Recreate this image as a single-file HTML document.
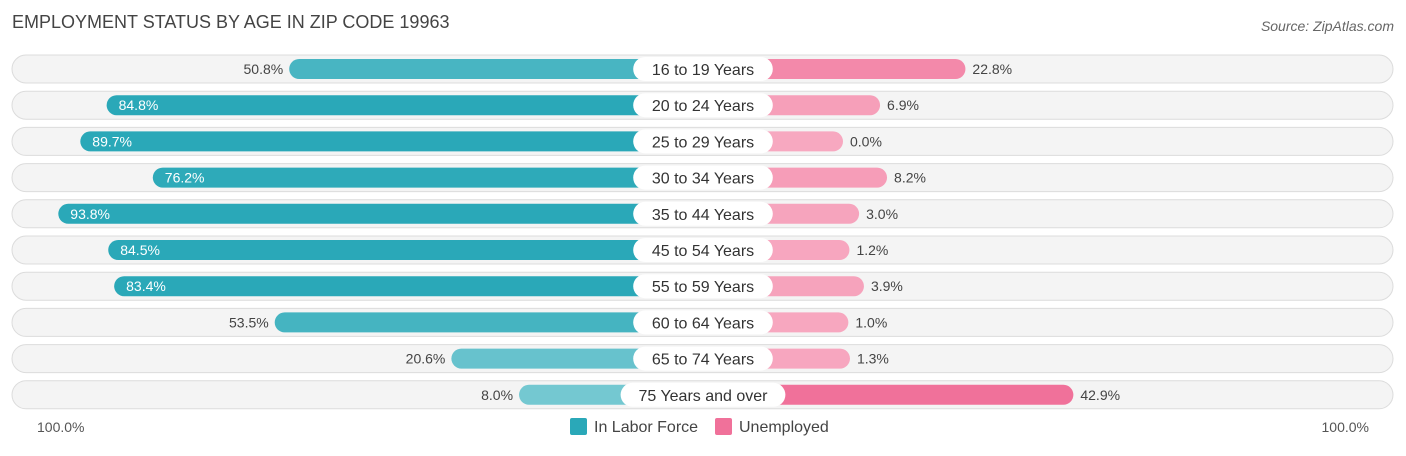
<!DOCTYPE html>
<html><head><meta charset="utf-8"><style>
body{margin:0;background:#fff;width:1406px;height:451px;overflow:hidden;font-family:"Liberation Sans",sans-serif;}
svg text{font-family:"Liberation Sans",sans-serif;}
</style></head><body>
<svg id="chart" width="1406" height="451">
<text x="12" y="28" font-size="18" fill="#444">EMPLOYMENT STATUS BY AGE IN ZIP CODE 19963</text>
<text x="1394" y="31" font-size="14" fill="#666" font-style="italic" text-anchor="end">Source: ZipAtlas.com</text>
<g id="rows"></g>
<text x="37" y="432" font-size="14" fill="#555">100.0%</text>
<text x="1369" y="432" font-size="14" fill="#555" text-anchor="end">100.0%</text>
<g>
<rect x="570" y="418" width="17" height="17" rx="2" fill="#2aa8b8"/>
<text x="594" y="432" font-size="16" fill="#444">In Labor Force</text>
<rect x="715" y="418" width="17" height="17" rx="2" fill="#f0719a"/>
<text x="739" y="432" font-size="16" fill="#444">Unemployed</text>
</g>
</svg>
<script>
const categories=["16 to 19 Years","20 to 24 Years","25 to 29 Years","30 to 34 Years","35 to 44 Years","45 to 54 Years","55 to 59 Years","60 to 64 Years","65 to 74 Years","75 Years and over"];
const laborForce=[50.8,84.8,89.7,76.2,93.8,84.5,83.4,53.5,20.6,8.0];
const unemployed=[22.8,6.9,0.0,8.2,3.0,1.2,3.9,1.0,1.3,42.9];
const NS="http://www.w3.org/2000/svg";
const cx=703,leftZero=562,rightZero=843,pxPer=5.37;
function xL(v){return leftZero-v*pxPer;}
function xR(v){return rightZero+v*pxPer;}
function rowY(i){return 69+i*36.2;}
function mix(a,b,t){return 'rgb('+a.map((c,k)=>Math.round(c+(b[k]-c)*t)).join(',')+')';}
function mk(tag,attrs){const e=document.createElementNS(NS,tag);for(const k in attrs)e.setAttribute(k,attrs[k]);return e;}
const g=document.getElementById('rows');
categories.forEach((cat,i)=>{
  const y=rowY(i);
  const bg=mk('rect',{x:12,y:y-14,width:1381,height:28,rx:14,fill:'#f4f4f4',stroke:'#dcdcdc'});
  
  
  g.appendChild(bg);
  const lv=laborForce[i],uv=unemployed[i];
  const lb=mk('rect',{x:xL(lv),y:y-10,width:cx-xL(lv),height:20,rx:10,fill:mix([124,203,212],[42,168,184],Math.min(1,lv/80))});
  
  
  g.appendChild(lb);
  const ub=mk('rect',{x:cx,y:y-10,width:xR(uv)-cx,height:20,rx:10,fill:mix([247,168,192],[240,113,154],Math.min(1,uv/40))});
  
  
  g.appendChild(ub);
  const inside=lv>60;
  const lt=mk('text',{x:inside?xL(lv)+12:xL(lv)-6,y:y+5,'font-size':14,fill:inside?'#fff':'#444','text-anchor':inside?'start':'end'});
  lt.textContent=lv.toFixed(1)+'%';
  
  
  g.appendChild(lt);
  const ut=mk('text',{x:xR(uv)+7,y:y+5,'font-size':14,fill:'#444'});
  ut.textContent=uv.toFixed(1)+'%';
  
  
  g.appendChild(ut);
  const w=cat.length*8.4+22;
  const pill=mk('rect',{x:cx-w/2,y:y-12,width:w,height:24,rx:12,fill:'#fff'});
  
  
  g.appendChild(pill);
  const ct=mk('text',{x:cx,y:y+6,'font-size':16,fill:'#333','text-anchor':'middle'});
  ct.textContent=cat;
  
  
  g.appendChild(ct);
});
</script>
</body></html>
